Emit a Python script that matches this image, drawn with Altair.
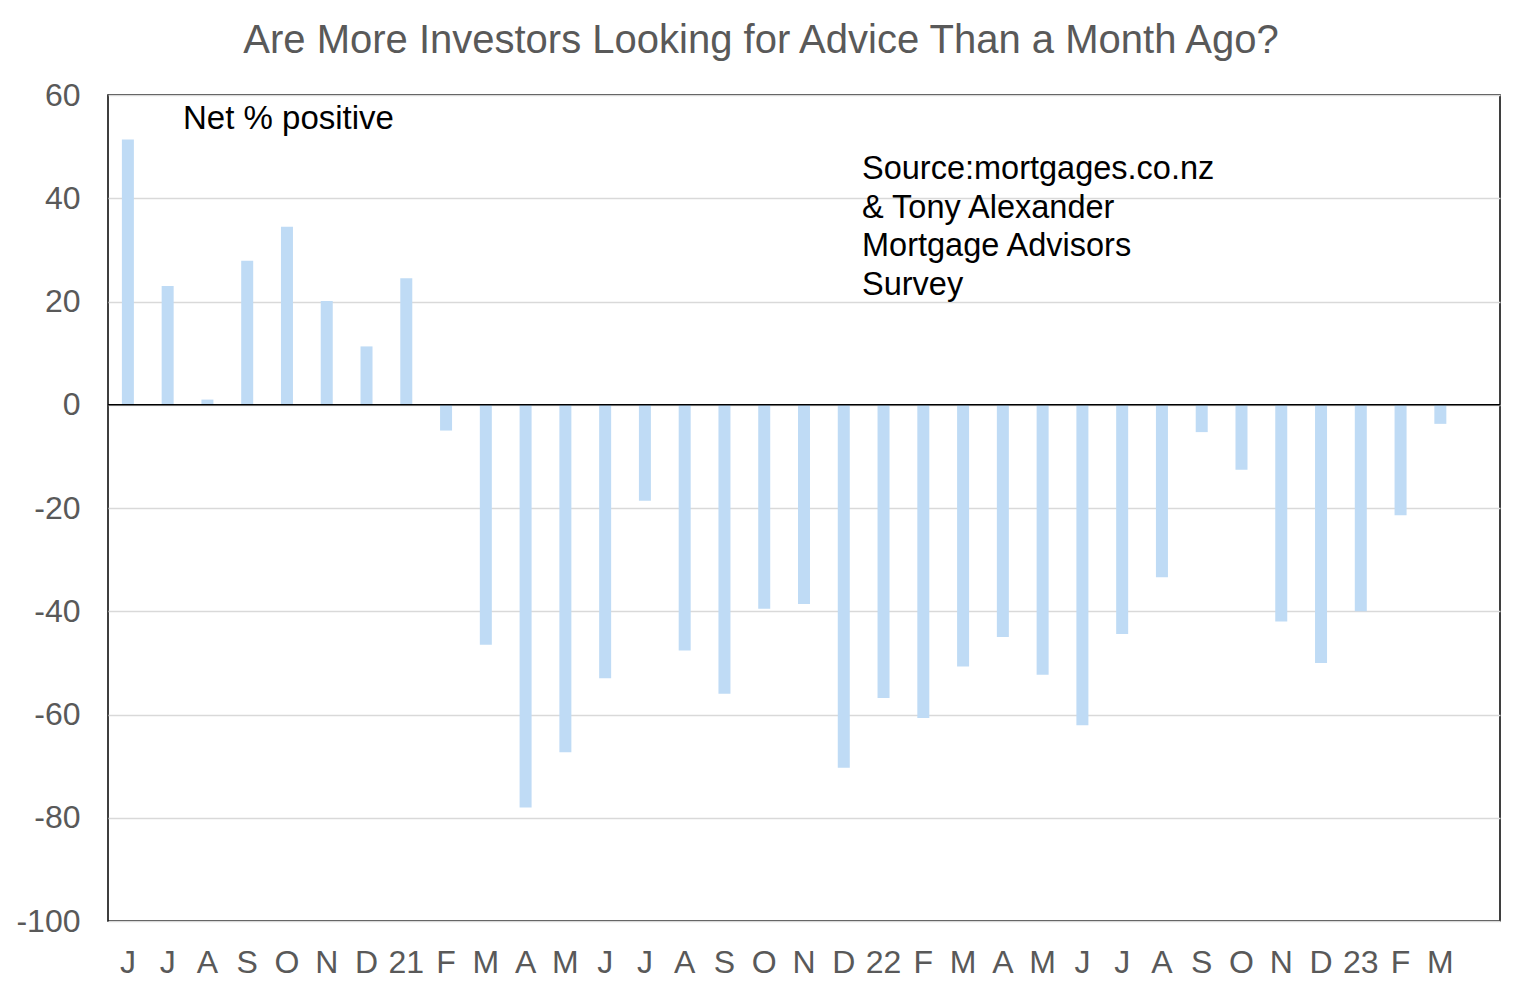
import altair as alt
import pandas as pd

# Month labels (Jun 2020 .. Mar 2023)
labels = ["J", "J", "A", "S", "O", "N", "D", "21", "F", "M", "A", "M",
          "J", "J", "A", "S", "O", "N", "D", "22", "F", "M", "A", "M",
          "J", "J", "A", "S", "O", "N", "D", "23", "F", "M"]
# Net % positive
values = [51.4, 23.0, 1.0, 27.9, 34.5, 20.1, 11.3, 24.5, -5.0, -46.5, -78.0, -67.3,
          -53.0, -18.6, -47.6, -56.0, -39.5, -38.6, -70.3, -56.8, -60.7, -50.7, -45.0, -52.3,
          -62.1, -44.4, -33.4, -5.3, -12.6, -42.0, -50.0, -40.0, -21.4, -3.7]
y_ticks = [-100, -80, -60, -40, -20, 0, 20, 40, 60]

slots = list(range(len(labels) + 1))  # one empty slot at the end, as in the original
axis_labels = labels + [""]

df = pd.DataFrame({"idx": list(range(len(labels))), "label": labels, "value": values})

label_expr = "[" + ",".join("'" + l + "'" for l in axis_labels) + "][datum.value]"

FONT = "Liberation Sans"
GREY = "#595959"
YSCALE = alt.Scale(domain=[-100, 60], nice=False, zero=False)

x_enc = alt.X(
    "idx:O",
    scale=alt.Scale(domain=slots, paddingInner=0, paddingOuter=0),
    axis=alt.Axis(title=None, labelExpr=label_expr, labelAngle=0, ticks=False,
                  domain=False, labelFontSize=32, labelFont=FONT, labelColor=GREY,
                  labelPadding=26, grid=False),
)
y_enc = alt.Y(
    "value:Q",
    scale=YSCALE,
    axis=alt.Axis(title=None, values=y_ticks,
                  labelExpr="datum.value < 0 ? '-' + abs(datum.value) : '' + datum.value",
                  ticks=False, domain=False, labelFontSize=32, labelFont=FONT,
                  labelColor=GREY, labelPadding=28, grid=True, gridColor="#D9D9D9",
                  gridWidth=1.5),
)

bars = alt.Chart(df).mark_bar(size=12, color="#BFDBF5").encode(x=x_enc, y=y_enc)

zero = alt.Chart(pd.DataFrame({"z": [0]})).mark_rule(color="black", strokeWidth=1.5).encode(
    y=alt.Y("z:Q", scale=YSCALE)
)

net_text = alt.Chart(pd.DataFrame({"t": ["Net % positive"]})).mark_text(
    align="left", baseline="alphabetic", font=FONT, fontSize=33, color="black"
).encode(text="t:N", x=alt.value(75), y=alt.value(34))

source_lines = ["Source:mortgages.co.nz", "& Tony Alexander", "Mortgage Advisors", "Survey"]
src_text = alt.Chart(pd.DataFrame({"t": [0]})).mark_text(
    align="left", baseline="alphabetic", font=FONT, fontSize=32.5, color="black",
    lineHeight=38.6, text=source_lines
).encode(x=alt.value(754), y=alt.value(84))

chart = alt.layer(bars, zero, net_text, src_text).properties(
    width=1392, height=826,
    background="white",
    title=alt.TitleParams(
        "Are More Investors Looking for Advice Than a Month Ago?",
        font=FONT, fontSize=40, fontWeight="normal", color=GREY,
        anchor="middle", frame="group", dx=-43, dy=40, baseline="alphabetic", offset=26,
    ),
    autosize=alt.AutoSizeParams(type="none"),
    padding={"left": 100, "top": 87, "right": 8, "bottom": 60},
).configure_view(stroke="#000000", strokeWidth=1.5, strokeOpacity=1)

chart.save("out.html", embed_options={"renderer": "svg", "actions": False})
